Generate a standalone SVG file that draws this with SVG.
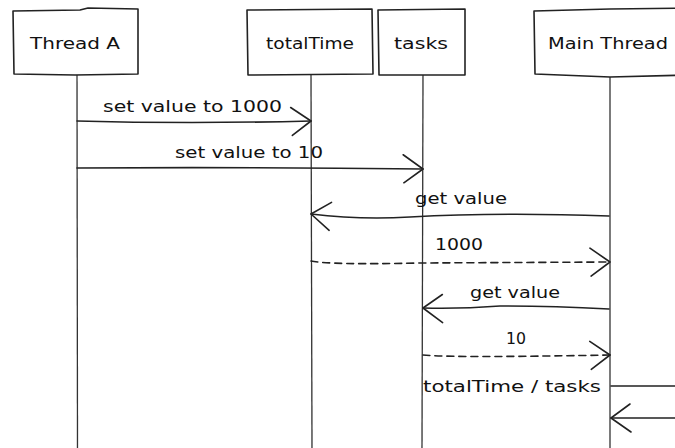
<svg xmlns="http://www.w3.org/2000/svg" width="675" height="448" viewBox="0 0 675 448">
<style>
.box{fill:#fff;stroke:#222;stroke-width:1.6;stroke-linejoin:round}
.life{fill:none;stroke:#333;stroke-width:1.3}
.msg{fill:none;stroke:#222;stroke-width:1.6;stroke-linecap:round}
.dash{stroke-dasharray:7 5}
text{font-family:"DejaVu Sans","Liberation Sans",sans-serif;font-size:15px;fill:#111}
.c{text-anchor:middle}
</style>
<defs>
<marker id="open" markerUnits="userSpaceOnUse" markerWidth="30" markerHeight="34" viewBox="-22 -17 24 34" refX="0" refY="0" orient="auto">
<path d="M-20,-14 L0,0 L-19,14" fill="none" stroke="#222" stroke-width="1.6" stroke-linecap="round" stroke-linejoin="round"/>
</marker>
</defs>
<rect width="675" height="448" fill="#fff"/>
<g id="lifelines">
<path class="life" d="M77,75 L77.5,448"/>
<path class="life" d="M311,75 L312,448"/>
<path class="life" d="M423,75 L422,448"/>
<path class="life" d="M610,76 L610,448"/>
</g>
<g id="threadA">
<path class="box" d="M13,11 L80,10 L88,8 L138,9 L138,74 L75,75 L14,74 Z"/>
<text class="c" x="75" y="49" textLength="90" lengthAdjust="spacingAndGlyphs">Thread A</text>
</g>
<g id="totalTime">
<path class="box" d="M247,10 L372,9 L373,74 L248,75 Z"/>
<text class="c" x="310" y="49" textLength="88" lengthAdjust="spacingAndGlyphs">totalTime</text>
</g>
<g id="tasks">
<path class="box" d="M378,10 L465,9 L465,75 L379,75 Z"/>
<text class="c" x="421" y="49" textLength="54" lengthAdjust="spacingAndGlyphs">tasks</text>
</g>
<g id="mainThread">
<path class="box" d="M534,11 L610,9 L690,8 L690,75 L610,77 L535,74 Z"/>
<text class="c" x="608" y="49" textLength="120" lengthAdjust="spacingAndGlyphs">Main Thread</text>
</g>
<g id="connectors">
<path class="msg" d="M77,121 Q190,124 311,121" marker-end="url(#open)"/>
<text x="103" y="112" textLength="179" lengthAdjust="spacingAndGlyphs">set value to 1000</text>
<path class="msg" d="M77,168 Q250,167 423,169" marker-end="url(#open)"/>
<text x="175" y="158" textLength="148" lengthAdjust="spacingAndGlyphs">set value to 10</text>
<path class="msg" d="M609,216 Q500,212 410,217 Q360,220 311,214" marker-end="url(#open)"/>
<text x="415" y="204" textLength="92" lengthAdjust="spacingAndGlyphs">get value</text>
<path class="msg dash" d="M311,261 Q330,265 420,263 L610,262" marker-end="url(#open)"/>
<text x="435" y="250" textLength="48" lengthAdjust="spacingAndGlyphs">1000</text>
<path class="msg" d="M609,309 Q550,306 500,306 Q460,309 423,308" marker-end="url(#open)"/>
<text x="470" y="298" textLength="90" lengthAdjust="spacingAndGlyphs">get value</text>
<path class="msg dash" d="M423,355 Q450,358 610,355" marker-end="url(#open)"/>
<text x="506" y="344" textLength="20" lengthAdjust="spacingAndGlyphs">10</text>
<path class="msg" d="M611,386 L690,386 L690,418 L611,418" marker-end="url(#open)"/>
<text x="423" y="392" textLength="178" lengthAdjust="spacingAndGlyphs">totalTime / tasks</text>
</g>
</svg>
